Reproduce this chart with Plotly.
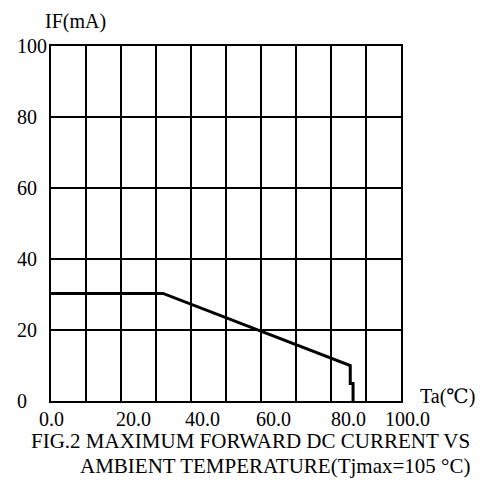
import plotly.graph_objects as go

# Derating curve (Ta in °C, IF in mA)
ta = [0, 32, 85.5, 85.5, 86.3, 86.3]
if_ma = [30.3, 30.3, 10, 4.9, 4.9, 0]

# Tick labels (as drawn in the reference, labels sit slightly off the grid)
x_tick_text = ["0.0", "20.0", "40.0", "60.0", "80.0", "100.0"]
x_tick_pos = [0, 23.5, 43.2, 63.5, 84.9, 101.9]
y_tick_text = ["100", "80", "60", "40", "20", "0"]
y_tick_pos = [100, 80, 60, 40, 20, 0]

caption = ["FIG.2 MAXIMUM FORWARD DC CURRENT VS",
           "AMBIENT TEMPERATURE(Tjmax=105 °C)"]

FONT = "'Liberation Serif', 'DejaVu Serif', 'Noto Serif', serif"
X_MAX = 100

fig = go.Figure()
fig.add_trace(go.Scatter(x=ta, y=if_ma, mode="lines",
                         line=dict(color="black", width=3),
                         hoverinfo="skip", showlegend=False))

f = dict(family=FONT, size=20, color="black")
fc = dict(family=FONT, size=21, color="black")
ann = []
for t, p in zip(x_tick_text, x_tick_pos):
    ann.append(dict(x=p / X_MAX, y=-0.051, xref="paper", yref="paper", text=t,
                    showarrow=False, xanchor="center", yanchor="middle", font=f))
for t, p in zip(y_tick_text, y_tick_pos):
    ann.append(dict(x=-0.103, y=p, xref="paper", yref="y", text=t,
                    showarrow=False, xanchor="left", yanchor="middle", font=f))
ann.append(dict(x=-0.023, y=1.07, xref="paper", yref="paper", text="IF(mA)",
                showarrow=False, xanchor="left", yanchor="middle", font=f))
ann.append(dict(x=1.048, y=0.014, xref="paper", yref="paper", text="Ta(℃)",
                showarrow=False, xanchor="left", yanchor="middle", font=f))
ann.append(dict(x=1.203, y=-0.113, xref="paper", yref="paper", text=caption[0],
                showarrow=False, xanchor="right", yanchor="middle", font=fc))
ann.append(dict(x=1.203, y=-0.183, xref="paper", yref="paper", text=caption[1],
                showarrow=False, xanchor="right", yanchor="middle", font=fc))

fig.update_layout(
    width=475, height=473, autosize=False,
    margin=dict(l=43, r=82, t=38, b=80),
    paper_bgcolor="white", plot_bgcolor="white",
    font=dict(family=FONT),
    annotations=ann,
    xaxis=dict(range=[0, X_MAX], dtick=10, tick0=0, showgrid=True,
               gridcolor="black", gridwidth=2, showticklabels=False,
               ticks="", zeroline=False, showline=True, linecolor="black",
               linewidth=2, mirror=True, fixedrange=True),
    yaxis=dict(range=[0, 100], dtick=20, tick0=0, showgrid=True,
               gridcolor="black", gridwidth=1.5, showticklabels=False,
               ticks="", zeroline=False, showline=True, linecolor="black",
               linewidth=2, mirror=True, fixedrange=True),
)

fig.write_html("out.html")
